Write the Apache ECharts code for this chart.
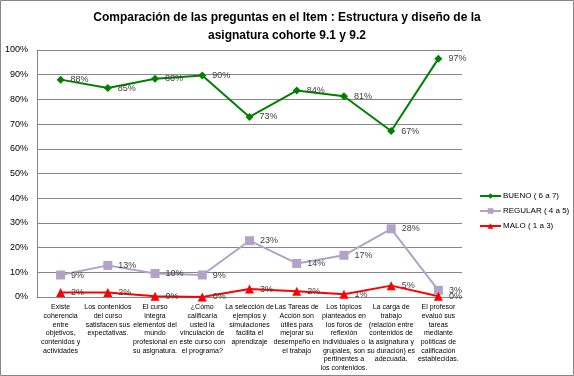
<!DOCTYPE html>
<html>
<head>
<meta charset="utf-8">
<script src="https://cdn.jsdelivr.net/npm/echarts@6/dist/echarts.min.js"></script>
<style>
  html, body { margin: 0; padding: 0; background: #fff; }
  #chart { width: 574px; height: 376px; }
</style>
</head>
<body>
<div id="chart"></div>
<script>
// preguntas del item
const categories = [
  'Existe\ncoherencia\nentre\nobjetivos,\ncontenidos y\nactividades',
  'Los contenidos\ndel curso\nsatisfacen sus\nexpectativas.',
  'El curso\nintegra\nelementos del\nmundo\nprofesional en\nsu asignatura.',
  '¿Cómo\ncalificaría\nusted la\nvinculación de\neste curso con\nel programa?',
  'La selección de\nejemplos y\nsimulaciones\nfacilita el\naprendizaje',
  'Las Tareas de\nAcción son\nútiles para\nmejorar su\ndesempeño en\nel trabajo',
  'Los tópicos\nplanteados en\nlos foros de\nreflexión\nindividuales o\ngrupales, son\npertinentes a\nlos contenidos.',
  'La carga de\ntrabajo\n(relación entre\ncontenidos de\nla asignatura y\nsu duración) es\nadecuada.',
  'El profesor\nevaluó sus\ntareas\nmediante\npolíticas de\ncalificación\nestablecidas.'
]

// valores en %
const bueno   = [88.0, 84.6, 88.4, 89.7, 72.9, 83.6, 81.3, 67.2, 96.5]
const regular = [8.9, 12.8, 9.5, 8.9, 22.8, 13.6, 16.9, 27.6, 2.7]
const malo    = [1.8, 1.8, 0.3, 0.0, 3.2, 2.3, 1.1, 4.6, 0.3]

const FONT = '"Liberation Sans", Arial, sans-serif'

const chart = echarts.init(document.getElementById('chart'))

const labelStyle = {
  show: true,
  position: 'right',
  distance: 6,
  color: '#404040',
  fontSize: 9,
  fontFamily: FONT,
  formatter: p => Math.round(p.value) + '%'
}

function mkSeries(name, data, color, symbol, size) {
  return {
    name,
    type: 'line',
    data,
    symbol,
    symbolSize: size,
    lineStyle: { color, width: 2 },
    itemStyle: { color },
    label: labelStyle,
    z: 3
  }
}

chart.setOption({
  animation: false,
  title: {
    text: 'Comparación de las preguntas en el Item : Estructura y diseño de la\nasignatura cohorte 9.1 y 9.2',
    left: 'center',
    top: 4,
    textStyle: {
      fontFamily: FONT,
      fontSize: 12,
      fontWeight: 'bold',
      color: '#000',
      lineHeight: 18
    }
  },
  legend: {
    orient: 'vertical',
    left: 474,
    top: 187,
    itemWidth: 21,
    itemHeight: 7,
    itemGap: 7,
    textStyle: { fontSize: 8, color: '#000', fontFamily: FONT, padding: [0, 0, 0, -3] },
    data: ['BUENO ( 6 a 7)', 'REGULAR ( 4 a 5)', 'MALO ( 1 a 3)']
  },
  grid: { left: 37, right: 112, top: 50, bottom: 79 },
  xAxis: {
    type: 'category',
    data: categories,
    boundaryGap: true,
    axisLine: { lineStyle: { color: '#868686', width: 1 } },
    axisTick: { show: false },
    axisLabel: {
      interval: 0,
      color: '#000',
      fontSize: 7,
      lineHeight: 8.7,
      fontFamily: FONT,
      margin: 6
    }
  },
  yAxis: {
    type: 'value',
    min: 0,
    max: 100,
    interval: 10,
    axisLine: { show: true, lineStyle: { color: '#868686' } },
    axisTick: { show: false },
    splitLine: { lineStyle: { color: '#868686', width: 1 } },
    axisLabel: {
      formatter: '{value}%',
      color: '#000',
      fontSize: 9,
      fontFamily: FONT,
      margin: 9
    }
  },
  graphic: [{
    type: 'rect',
    shape: { x: 0.5, y: 0.5, width: 573, height: 375 },
    style: { fill: 'none', stroke: '#868686', lineWidth: 1 },
    silent: true
  }],
  series: [
    mkSeries('BUENO ( 6 a 7)', bueno, '#008000', 'diamond', 8),
    mkSeries('REGULAR ( 4 a 5)', regular, '#B3A2C7', 'rect', 9),
    mkSeries('MALO ( 1 a 3)', malo, '#FF0000', 'triangle', 9)
  ]
})
</script>
</body>
</html>
